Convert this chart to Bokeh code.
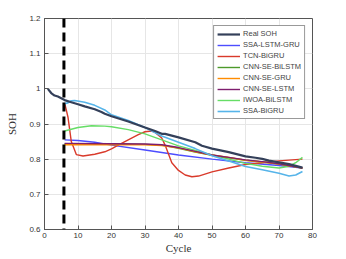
from bokeh.plotting import figure
from bokeh.models import Legend, LegendItem, FixedTicker, Span
from bokeh.embed import file_html
from bokeh.resources import INLINE

real_x = [1, 2, 3, 4, 5, 6, 8, 10, 12, 15, 17, 18, 20, 25, 30, 33, 35, 36, 40, 45, 47, 50, 55, 60, 63, 65, 67, 70, 73, 75, 77]
real_y = [1.0, 0.988, 0.981, 0.978, 0.973, 0.968, 0.962, 0.956, 0.950, 0.942, 0.934, 0.929, 0.922, 0.907, 0.890, 0.880, 0.872, 0.872, 0.862, 0.848, 0.838, 0.830, 0.820, 0.808, 0.804, 0.801, 0.796, 0.791, 0.786, 0.781, 0.776]

ssa_lstm_gru_x = [6, 10, 15, 20, 30, 40, 50, 60, 70, 77]
ssa_lstm_gru_y = [0.855, 0.853, 0.848, 0.840, 0.826, 0.812, 0.800, 0.790, 0.782, 0.775]

tcn_x = [6, 7, 8, 9.5, 11.5, 15, 18, 20, 22, 25, 28, 30, 32, 33, 35, 36, 38, 40, 42, 44, 46, 50, 55, 60, 65, 70, 77]
tcn_y = [0.960, 0.920, 0.850, 0.813, 0.809, 0.814, 0.821, 0.829, 0.840, 0.855, 0.870, 0.878, 0.880, 0.876, 0.860, 0.840, 0.790, 0.768, 0.755, 0.750, 0.752, 0.764, 0.775, 0.785, 0.790, 0.795, 0.800]

cnn_bilstm_x = [6, 20, 30, 35, 40, 45, 50, 55, 60, 65, 70, 77]
cnn_bilstm_y = [0.843, 0.843, 0.842, 0.840, 0.831, 0.820, 0.811, 0.804, 0.797, 0.792, 0.786, 0.775]

cnn_gru_x = [6, 20, 30, 35, 40, 45, 50, 55, 60, 65, 70, 77]
cnn_gru_y = [0.841, 0.841, 0.841, 0.839, 0.832, 0.821, 0.812, 0.805, 0.797, 0.792, 0.786, 0.775]

cnn_lstm_x = [6, 20, 30, 35, 40, 45, 50, 55, 60, 65, 70, 77]
cnn_lstm_y = [0.845, 0.844, 0.843, 0.841, 0.833, 0.822, 0.812, 0.805, 0.798, 0.793, 0.787, 0.775]

iwoa_x = [6, 10, 14, 18, 20, 25, 30, 35, 40, 45, 50, 55, 60, 65, 70, 73, 75, 77]
iwoa_y = [0.880, 0.890, 0.895, 0.894, 0.892, 0.884, 0.872, 0.855, 0.838, 0.825, 0.812, 0.800, 0.788, 0.780, 0.775, 0.780, 0.790, 0.805]

ssa_bigru_x = [6, 7, 8, 9, 12, 15, 18, 20, 25, 30, 35, 40, 45, 50, 55, 60, 65, 70, 73, 75, 77]
ssa_bigru_y = [0.958, 0.960, 0.966, 0.967, 0.962, 0.953, 0.940, 0.926, 0.910, 0.890, 0.866, 0.848, 0.830, 0.810, 0.795, 0.779, 0.770, 0.760, 0.752, 0.755, 0.765]

names = ["Real SOH", "SSA-LSTM-GRU", "TCN-BiGRU", "CNN-SE-BiLSTM", "CNN-SE-GRU", "CNN-SE-LSTM", "IWOA-BiLSTM", "SSA-BiGRU"]
colors = ["#34405a", "#4d4dff", "#d93a2b", "#4c9a2a", "#ff8c00", "#7e1e6e", "#66dd66", "#56b4e9"]
widths = [2.2, 1.4, 1.4, 1.4, 1.4, 1.4, 1.4, 1.6]

x_ticks = [0, 10, 20, 30, 40, 50, 60, 70, 80]
y_ticks = [0.6, 0.7, 0.8, 0.9, 1.0, 1.1, 1.2]
y_labels = ["0.6", "0.7", "0.8", "0.9", "1", "1.1", "1.2"]
split_cycle = 5.8

p = figure(frame_width=268, frame_height=211, x_range=(0, 80), y_range=(0.6, 1.2),
           output_backend="svg", toolbar_location=None,
           min_border_left=44, min_border_right=17, min_border_top=18, min_border_bottom=21)

series = [(real_x, real_y), (ssa_lstm_gru_x, ssa_lstm_gru_y), (tcn_x, tcn_y),
          (cnn_bilstm_x, cnn_bilstm_y), (cnn_gru_x, cnn_gru_y), (cnn_lstm_x, cnn_lstm_y),
          (iwoa_x, iwoa_y), (ssa_bigru_x, ssa_bigru_y)]

renderers = {}
draw_order = [1, 2, 6, 3, 4, 5, 7, 0]
for i in draw_order:
    xs, ys = series[i]
    renderers[i] = p.line(xs, ys, line_color=colors[i], line_width=widths[i])

p.add_layout(Span(location=split_cycle, dimension="height", line_color="black",
                  line_width=3, line_dash="9 5"))

legend = Legend(items=[LegendItem(label=names[i], renderers=[renderers[i]]) for i in range(8)],
                location="top_right", label_text_font="Liberation Sans", label_text_font_size="7.5px",
                label_height=8, label_standoff=3, glyph_height=8, glyph_width=23, spacing=2,
                padding=3, margin=7, border_line_color="#333333", border_line_width=1,
                background_fill_alpha=1)
p.add_layout(legend)

p.xaxis.ticker = FixedTicker(ticks=x_ticks)
p.yaxis.ticker = FixedTicker(ticks=y_ticks)
p.yaxis.major_label_overrides = {t: l for t, l in zip(y_ticks, y_labels)}
for ax in (p.xaxis, p.yaxis):
    ax.major_tick_in = 4
    ax.major_tick_out = 0
    ax.minor_tick_in = 0
    ax.minor_tick_out = 0
    ax.axis_line_color = "#555555"
    ax.major_tick_line_color = "#555555"
    ax.major_label_text_font = "Liberation Sans"
    ax.major_label_text_font_size = "8px"
    ax.major_label_text_color = "#333333"
    ax.axis_label_text_font = "Liberation Serif"
    ax.axis_label_text_font_size = "11px"
    ax.axis_label_text_font_style = "normal"
    ax.axis_label_text_color = "#333333"
p.xaxis.axis_label = "Cycle"
p.yaxis.axis_label = "SOH"
p.xaxis.major_label_standoff = 3
p.xaxis.axis_label_standoff = 1
p.yaxis.major_label_standoff = 4
p.yaxis.axis_label_standoff = 8

p.xgrid.grid_line_color = "#e6e6e6"
p.ygrid.grid_line_color = "#e6e6e6"
p.outline_line_color = "#555555"
p.outline_line_alpha = 1
p.background_fill_color = "white"

open("out.html", "w").write(file_html(p, INLINE))
